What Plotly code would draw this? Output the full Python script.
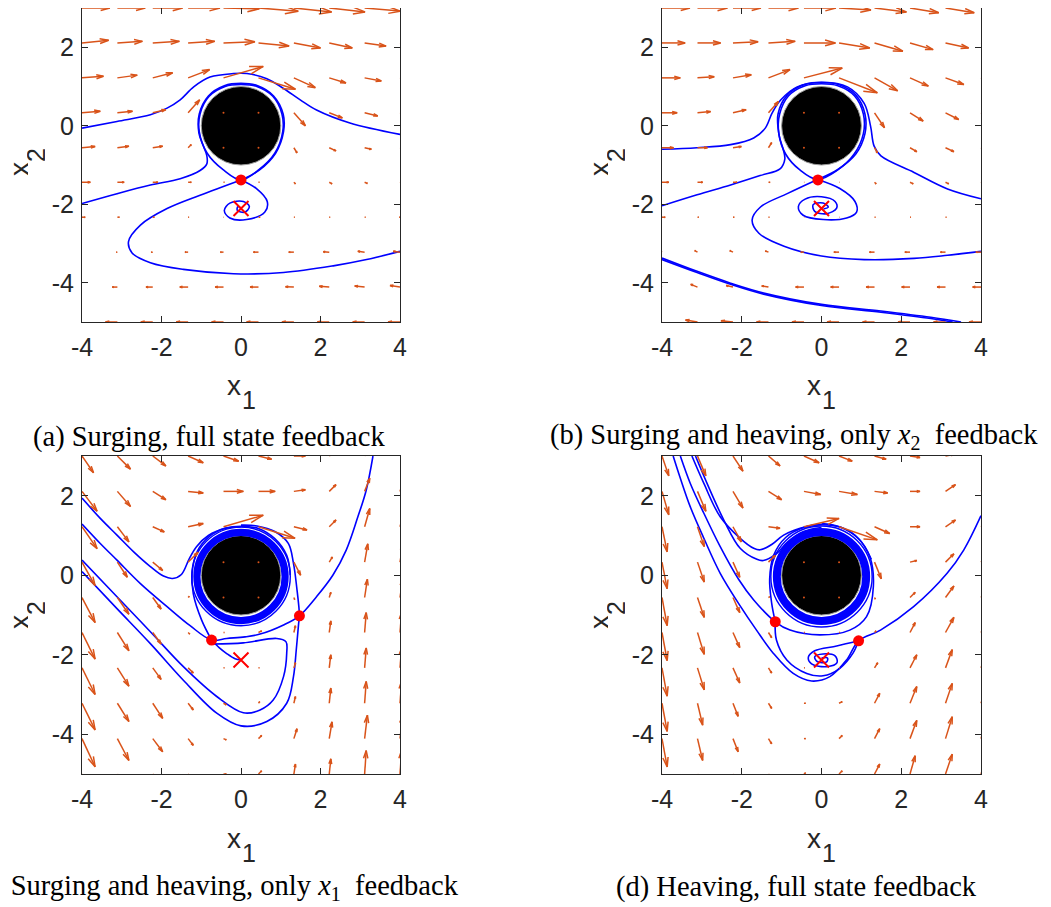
import plotly.graph_objects as go

W, H = 1051, 907
PAGE_OFFSET = 8  # the browser's default body margin shifts the figure by this many px

# ---------------- quiver grid ----------------
X_GRID = [-4.0, -3.11, -2.22, -1.33, -0.44, 0.44, 1.33, 2.22, 3.11, 4.0]
Y_ROWS = [3.0, 2.11, 1.22, 0.33, -0.56, -1.44, -2.33, -3.22, -4.11, -5.0]  # top -> bottom

# (a) Surging, full state feedback
U_A = [
    [0.70, 0.70, 0.75, 0.80, 0.90, 1.00, 0.95, 0.90, 0.90, 0.90],
    [0.67, 0.63, 0.67, 0.67, 0.79, 0.77, 0.67, 0.58, 0.54, 0.50],
    [0.54, 0.50, 0.50, 0.54, 1.00, 0.93, 0.54, 0.42, 0.42, 0.38],
    [0.46, 0.38, 0.33, 0.29, 0.00, 0.00, 0.29, 0.33, 0.33, 0.33],
    [0.33, 0.29, 0.25, 0.08, 0.00, 0.00, 0.08, 0.17, 0.17, 0.17],
    [0.21, 0.17, 0.13, 0.08, 0.02, 0.02, 0.04, 0.07, 0.07, 0.07],
    [0.08, 0.05, 0.04, 0.02, 0.01, 0.04, 0.02, 0.02, 0.02, -0.02],
    [-0.03, -0.03, -0.04, -0.08, -0.08, -0.13, -0.13, -0.15, -0.17, -0.17],
    [-0.13, -0.13, -0.17, -0.21, -0.21, -0.21, -0.21, -0.25, -0.25, -0.25],
    [-0.30, -0.30, -0.30, -0.30, -0.30, -0.30, -0.30, -0.30, -0.30, -0.30],
]
V_A = [
    [0.00, 0.00, 0.00, 0.00, -0.02, -0.08, -0.10, -0.10, -0.08, -0.08],
    [0.07, 0.04, 0.04, 0.04, 0.03, -0.08, -0.13, -0.13, -0.08, -0.07],
    [0.04, 0.07, 0.13, 0.21, 0.29, -0.29, -0.25, -0.13, -0.08, -0.07],
    [0.04, 0.04, 0.08, 0.33, 0.00, 0.00, -0.33, -0.13, -0.08, -0.07],
    [0.03, 0.04, 0.04, 0.08, 0.00, 0.00, -0.13, -0.08, -0.04, -0.03],
    [0.00, 0.00, 0.00, 0.00, 0.00, 0.00, -0.04, -0.04, -0.03, -0.03],
    [0.00, 0.00, 0.00, 0.00, 0.00, 0.00, 0.00, 0.00, 0.00, 0.00],
    [0.00, 0.00, 0.00, 0.00, 0.00, 0.00, 0.00, 0.01, 0.02, 0.02],
    [0.00, 0.00, 0.00, 0.00, 0.00, 0.00, 0.01, 0.02, 0.03, 0.04],
    [0.00, 0.00, 0.00, 0.00, 0.00, 0.00, 0.00, 0.00, 0.00, 0.00],
]

# (b) Surging and heaving, only x2 feedback
U_B = [
    [0.70, 0.75, 0.70, 0.75, 0.80, 0.80, 0.80, 0.72, 0.72, 0.70],
    [0.58, 0.58, 0.63, 0.67, 0.79, 0.77, 0.71, 0.58, 0.58, 0.54],
    [0.46, 0.42, 0.46, 0.54, 0.96, 0.96, 0.58, 0.46, 0.46, 0.42],
    [0.38, 0.33, 0.33, 0.25, 0.00, 0.00, 0.25, 0.33, 0.33, 0.33],
    [0.29, 0.25, 0.21, 0.08, 0.00, 0.00, 0.07, 0.17, 0.21, 0.21],
    [0.17, 0.13, 0.10, 0.04, 0.01, 0.01, 0.04, 0.08, 0.08, 0.08],
    [0.08, 0.03, 0.03, 0.02, 0.01, 0.01, 0.02, 0.02, 0.02, 0.02],
    [-0.05, -0.07, -0.08, -0.08, -0.08, -0.13, -0.13, -0.13, -0.13, -0.13],
    [-0.17, -0.17, -0.17, -0.17, -0.21, -0.21, -0.21, -0.21, -0.21, -0.21],
    [-0.30, -0.30, -0.30, -0.30, -0.30, -0.30, -0.30, -0.30, -0.30, -0.30],
]
V_B = [
    [0.00, 0.00, 0.00, 0.00, 0.00, -0.05, -0.10, -0.12, -0.12, -0.10],
    [0.00, 0.00, 0.03, 0.04, 0.00, -0.13, -0.21, -0.17, -0.13, -0.10],
    [0.00, 0.03, 0.08, 0.21, 0.25, -0.38, -0.33, -0.21, -0.17, -0.15],
    [0.00, 0.03, 0.08, 0.29, 0.00, 0.00, -0.38, -0.21, -0.17, -0.15],
    [0.00, 0.00, 0.03, 0.13, 0.00, 0.00, -0.13, -0.10, -0.10, -0.10],
    [0.00, 0.00, 0.00, 0.00, 0.00, 0.00, -0.04, -0.04, -0.04, -0.04],
    [0.00, 0.00, 0.00, 0.00, 0.00, 0.00, 0.00, 0.00, 0.00, 0.00],
    [0.04, 0.04, 0.04, 0.03, 0.00, 0.00, 0.00, 0.00, 0.00, 0.00],
    [0.07, 0.07, 0.04, 0.03, 0.00, 0.00, 0.00, 0.00, 0.00, 0.00],
    [0.05, 0.05, 0.03, 0.00, 0.00, 0.00, 0.00, 0.00, 0.00, 0.00],
]

# (c) Surging and heaving, only x1 feedback
U_C = [
    [0.29, 0.33, 0.33, 0.38, 0.38, 0.33, 0.29, 0.17, 0.13, 0.13],
    [0.38, 0.33, 0.33, 0.38, 0.50, 0.42, 0.29, 0.17, 0.13, 0.13],
    [0.38, 0.29, 0.29, 0.38, 1.00, 0.92, 0.33, 0.17, 0.13, 0.13],
    [0.33, 0.25, 0.25, 0.25, 0.00, 0.00, 0.17, 0.08, 0.08, 0.08],
    [0.33, 0.29, 0.21, 0.03, 0.00, 0.00, 0.02, 0.04, 0.07, 0.07],
    [0.33, 0.29, 0.21, 0.04, 0.02, 0.08, 0.04, 0.04, 0.04, 0.04],
    [0.33, 0.29, 0.21, 0.13, 0.02, 0.02, 0.04, 0.04, 0.04, 0.04],
    [0.33, 0.29, 0.25, 0.13, 0.07, 0.03, 0.04, 0.04, 0.04, 0.04],
    [0.33, 0.29, 0.25, 0.13, 0.07, 0.08, 0.08, 0.07, 0.07, 0.07],
    [0.33, 0.29, 0.25, 0.13, 0.07, 0.08, 0.04, 0.04, 0.04, 0.04],
]
V_C = [
    [-0.42, -0.33, -0.25, -0.17, -0.13, -0.08, 0.00, 0.13, 0.33, 0.33],
    [-0.50, -0.38, -0.21, -0.04, 0.00, 0.00, 0.04, 0.17, 0.33, 0.38],
    [-0.55, -0.38, -0.13, 0.08, 0.29, -0.29, -0.08, 0.17, 0.46, 0.46],
    [-0.59, -0.38, -0.21, 0.25, 0.00, 0.00, -0.33, 0.13, 0.46, 0.46],
    [-0.63, -0.42, -0.29, 0.03, 0.00, 0.00, -0.05, 0.13, 0.46, 0.46],
    [-0.67, -0.46, -0.29, -0.04, 0.00, 0.04, 0.17, 0.29, 0.50, 0.50],
    [-0.67, -0.46, -0.29, -0.13, 0.00, 0.00, 0.13, 0.33, 0.50, 0.50],
    [-0.67, -0.46, -0.38, -0.17, -0.04, 0.04, 0.17, 0.38, 0.55, 0.55],
    [-0.71, -0.55, -0.33, -0.17, -0.03, 0.08, 0.25, 0.42, 0.59, 0.59],
    [-0.71, -0.55, -0.33, -0.17, 0.00, 0.08, 0.25, 0.38, 0.59, 0.59],
]

# (d) Heaving, full state feedback
U_D = [
    [0.17, 0.21, 0.25, 0.29, 0.38, 0.33, 0.29, 0.25, 0.21, 0.21],
    [0.17, 0.21, 0.25, 0.33, 0.42, 0.46, 0.33, 0.25, 0.25, 0.25],
    [0.13, 0.17, 0.21, 0.29, 0.88, 0.96, 0.38, 0.25, 0.25, 0.25],
    [0.13, 0.17, 0.17, 0.17, 0.00, 0.00, 0.17, 0.17, 0.21, 0.21],
    [0.13, 0.17, 0.17, 0.03, 0.00, 0.00, 0.02, 0.13, 0.21, 0.21],
    [0.13, 0.17, 0.17, 0.08, 0.02, 0.02, 0.04, 0.13, 0.21, 0.21],
    [0.13, 0.17, 0.17, 0.08, 0.02, 0.02, 0.08, 0.17, 0.17, 0.17],
    [0.13, 0.13, 0.13, 0.08, 0.04, 0.08, 0.13, 0.17, 0.17, 0.17],
    [0.13, 0.13, 0.13, 0.08, 0.04, 0.08, 0.13, 0.17, 0.17, 0.17],
    [0.13, 0.13, 0.13, 0.08, 0.04, 0.08, 0.13, 0.13, 0.17, 0.17],
]
V_D = [
    [-0.50, -0.50, -0.38, -0.25, -0.17, -0.13, -0.08, -0.04, 0.04, 0.04],
    [-0.59, -0.50, -0.42, -0.21, -0.08, -0.08, -0.04, 0.00, 0.17, 0.17],
    [-0.63, -0.50, -0.38, -0.04, 0.21, -0.33, -0.17, 0.00, 0.17, 0.17],
    [-0.67, -0.50, -0.38, 0.17, 0.00, 0.00, -0.42, 0.04, 0.21, 0.21],
    [-0.71, -0.50, -0.38, 0.02, 0.00, 0.00, -0.04, 0.13, 0.29, 0.29],
    [-0.71, -0.55, -0.38, -0.13, 0.00, 0.00, 0.04, 0.25, 0.38, 0.38],
    [-0.71, -0.55, -0.38, -0.13, 0.00, 0.00, 0.13, 0.33, 0.46, 0.46],
    [-0.71, -0.55, -0.33, -0.13, 0.00, 0.04, 0.25, 0.42, 0.50, 0.50],
    [-0.71, -0.55, -0.33, -0.13, 0.00, 0.08, 0.25, 0.46, 0.55, 0.55],
    [-0.71, -0.55, -0.33, -0.13, 0.03, 0.08, 0.25, 0.46, 0.50, 0.50],
]

# ---------------- trajectories (x1, x2) ----------------
A_TOP = [(-4, -0.06), (-3.12, 0.11), (-2.28, 0.28), (-1.86, 0.45), (-1.53, 0.66), (-1.19, 0.99),
         (-0.78, 1.24), (-0.19, 1.33), (0.15, 1.33), (0.65, 1.20), (1.07, 0.95), (1.49, 0.66),
         (1.90, 0.40), (2.74, 0.07), (4.0, -0.22)]
A_LEFT = [(-4, -1.98), (-3.12, -1.73), (-2.28, -1.51), (-1.53, -1.35), (-1.03, -1.14), (-0.86, -0.97),
          (-0.86, -0.76), (-0.95, -0.51), (-1.06, -0.18), (-1.05, 0.3), (-0.82, 0.76), (-0.42, 1.02),
          (0, 1.08), (0.42, 1.02), (0.82, 0.76), (1.06, 0.3), (1.07, -0.15), (0.87, -0.7),
          (0.46, -1.13), (0, -1.38)]
A_LOOP = [(0, -1.38), (0.45, -1.12), (0.85, -0.7), (1.05, -0.15), (1.03, 0.3), (0.8, 0.75), (0.4, 1.0),
          (0, 1.05), (-0.4, 1.0), (-0.8, 0.75), (-1.03, 0.3), (-1.05, -0.15), (-0.85, -0.7),
          (-0.45, -1.12), (0, -1.38)]
A_BIG = [(4.0, -3.20), (3.16, -3.41), (2.32, -3.57), (1.07, -3.74), (-0.19, -3.77), (-1.45, -3.66),
         (-2.28, -3.49), (-2.74, -3.24), (-2.83, -2.95), (-2.53, -2.53), (-1.86, -2.11),
         (-1.03, -1.77), (0, -1.38)]
A_SPIRAL = [(0, -1.38), (0.39, -1.60), (0.66, -1.93), (0.60, -2.20), (0.14, -2.39), (-0.28, -2.35),
            (-0.42, -2.16), (-0.28, -1.97), (0.06, -1.93), (0.21, -2.06), (0.10, -2.20),
            (-0.09, -2.16), (-0.08, -2.06), (0.0, -2.1)]

B_TOP = [(-4, -0.60), (-3.12, -0.56), (-2.28, -0.48), (-1.70, -0.31), (-1.41, -0.06), (-1.24, 0.32),
         (-1.03, 0.65), (-0.61, 0.99), (0.0, 1.10), (0.65, 0.99), (1.07, 0.57), (1.23, -0.01),
         (1.32, -0.52), (1.49, -0.77), (2.32, -1.19), (3.16, -1.61), (4.0, -1.86)]
B_LEFT = [(-4, -2.04), (-3.12, -1.76), (-2.28, -1.51), (-1.54, -1.27), (-1.04, -1.10), (-0.92, -0.85),
          (-0.96, -0.60), (-1.06, -0.26), (-1.09, 0.3), (-0.86, 0.78), (-0.43, 1.05), (0, 1.11),
          (0.43, 1.05), (0.86, 0.78), (1.09, 0.3), (1.09, -0.2), (0.86, -0.72), (0.4, -1.12),
          (-0.1, -1.37)]
B_LOOP = [(-0.1, -1.37), (0.4, -1.13), (0.82, -0.72), (1.05, -0.2), (1.05, 0.3), (0.83, 0.76),
          (0.41, 1.02), (0, 1.07), (-0.41, 1.02), (-0.83, 0.76), (-1.05, 0.3), (-1.07, -0.2),
          (-0.9, -0.72), (-0.55, -1.12), (-0.1, -1.37)]
B_MID = [(4.0, -3.20), (3.16, -3.30), (2.32, -3.38), (1.07, -3.41), (0, -3.32), (-0.94, -3.07),
         (-1.57, -2.74), (-1.74, -2.40), (-1.53, -2.07), (-0.86, -1.73), (-0.1, -1.37)]
B_SPIRAL = [(-0.1, -1.37), (0.46, -1.60), (0.84, -1.93), (0.88, -2.20), (0.63, -2.35), (0.04, -2.39),
            (-0.46, -2.28), (-0.58, -2.06), (-0.41, -1.87), (0.0, -1.81), (0.34, -1.93),
            (0.38, -2.10), (0.13, -2.24), (-0.17, -2.18), (-0.21, -2.01), (0.04, -1.97),
            (0.17, -2.07), (0.05, -2.12)]
B_BOTTOM_1 = [(-4, -3.41), (-3.12, -3.74), (-2.28, -4.04), (-1.45, -4.29), (0, -4.58), (1.49, -4.75),
              (2.74, -4.91), (3.29, -5.0)]
B_BOTTOM_2 = [(-4, -3.37), (-3.12, -3.71), (-2.28, -4.01), (-1.45, -4.26), (0, -4.55), (1.49, -4.72),
              (2.74, -4.88), (3.5, -5.0)]

C_HOOK = [(-4, 1.94), (-3.54, 1.43), (-3.12, 1.01), (-2.70, 0.59), (-2.28, 0.22), (-1.95, -0.02),
          (-1.72, -0.08), (-1.5, 0.02), (-1.3, 0.42), (-1.12, 0.72), (-0.82, 1.0), (-0.4, 1.18),
          (0, 1.23), (0.45, 1.17), (0.85, 0.92), (1.15, 0.5), (1.24, 0.0)]
C_MAIN = [(-4, 1.29), (-3.54, 0.80), (-3.12, 0.38), (-2.53, -0.21), (-1.86, -0.79), (-1.28, -1.27),
          (-0.74, -1.63), (-0.36, -1.59), (0.1, -1.55), (0.48, -1.48), (1.07, -1.25), (1.47, -1.02),
          (1.90, -0.54), (2.31, 0.0), (2.65, 0.64), (2.94, 1.47), (3.15, 2.14), (3.32, 3.0)]
C_TO_FOCUS = [(-0.74, -1.63), (-0.55, -1.82), (-0.36, -1.97), (-0.15, -2.1), (0, -2.13)]
C_UP = [(-0.74, -1.63), (-0.99, -1.13), (-1.20, -0.47), (-1.23, 0.05), (-1.1, 0.6), (-0.8, 0.97),
        (-0.4, 1.18), (0, 1.22)]
C_J = [(-4, 0.38), (-3.12, -0.54), (-2.28, -1.42), (-1.45, -2.30), (-0.61, -3.05), (0.06, -3.46),
       (0.48, -3.39), (0.81, -3.14), (1.07, -2.55), (1.15, -1.96), (1.13, -1.67), (0.90, -1.59),
       (0.06, -1.70), (-0.70, -1.73)]
C_U = [(-4, 0.09), (-3.12, -0.84), (-2.28, -1.72), (-1.45, -2.64), (-0.61, -3.47), (0, -3.79),
       (0.65, -3.68), (1.15, -3.22), (1.32, -2.55), (1.39, -1.88), (1.45, -1.21), (1.47, -1.02),
       (1.40, -0.29), (1.32, 0.30), (1.19, 0.80), (0.85, 1.1), (0.4, 1.24), (0, 1.26)]

D_OUTER = [(-3.72, 3.0), (-3.54, 2.44), (-3.29, 1.72), (-2.95, 0.93), (-2.54, 0.05), (-2.04, -0.77),
           (-1.63, -1.38), (-1.21, -1.96), (-0.71, -2.47), (-0.25, -2.66), (0.21, -2.55),
           (0.63, -2.13), (0.93, -1.65), (1.48, -1.38), (2.31, -0.79), (3.15, 0.05), (3.57, 0.64),
           (4.0, 1.5)]
D_SECOND = [(-3.54, 3.0), (-3.29, 2.31), (-2.95, 1.56), (-2.54, 0.72), (-2.08, -0.1), (-1.70, -0.62),
            (-1.16, -1.17), (-0.79, -1.38), (-0.04, -1.50), (0.71, -1.38), (1.13, -1.04),
            (1.30, -0.29), (1.21, 0.47), (0.9, 0.95), (0.45, 1.22), (0, 1.3)]
D_LOWER = [(-1.16, -1.17), (-1.13, -1.63), (-0.87, -2.13), (-0.37, -2.47), (0.04, -2.53), (0.46, -2.34),
           (0.79, -1.96), (0.93, -1.65)]
D_UP = [(-1.16, -1.17), (-1.25, -0.7), (-1.3, -0.1), (-1.2, 0.5), (-0.9, 0.95), (-0.45, 1.2), (0, 1.28)]
D_SPIRAL = [(0.93, -1.65), (0.38, -1.78), (-0.17, -1.90), (-0.33, -2.06), (-0.25, -2.23), (0.13, -2.30),
            (0.39, -2.20), (0.34, -2.03), (0.04, -1.98), (-0.17, -2.05), (-0.11, -2.17),
            (0.13, -2.18), (0.15, -2.08), (0.0, -2.08)]
D_HOOK_1 = [(-3.25, 3.0), (-2.95, 2.31), (-2.54, 1.47), (-2.04, 0.93), (-1.70, 0.68), (-1.54, 0.64),
            (-1.24, 0.78), (-0.95, 1.01), (-0.4, 1.22), (0, 1.27), (0.5, 1.2), (0.95, 0.9), (1.25, 0.4)]
D_HOOK_2 = [(-3.16, 3.0), (-2.87, 2.31), (-2.45, 1.39), (-2.04, 0.68), (-1.62, 0.40), (-1.46, 0.37),
            (-1.12, 0.55), (-0.85, 0.84), (-0.45, 1.1), (0, 1.2)]

CURVES = {
    "a": [A_TOP, A_LEFT, A_LOOP, A_BIG, A_SPIRAL],
    "b": [B_TOP, B_LEFT, B_LOOP, B_MID, B_SPIRAL, B_BOTTOM_1, B_BOTTOM_2],
    "c": [C_HOOK, C_MAIN, C_TO_FOCUS, C_UP, C_J, C_U],
    "d": [D_OUTER, D_SECOND, D_LOWER, D_UP, D_SPIRAL, D_HOOK_1, D_HOOK_2],
}
SADDLES = {"a": [(0.0, -1.38)], "b": [(-0.09, -1.38)],
           "c": [(-0.74, -1.63), (1.47, -1.02)], "d": [(-1.16, -1.17), (0.93, -1.65)]}
FOCI = {"a": (0.0, -2.11), "b": (0.0, -2.11), "c": (0.0, -2.13), "d": (0.0, -2.13)}
OBSTACLE_RADIUS = 1.0
# limit-cycle bands (inner radius, outer radius) and outer single loops
BANDS = {"c": (1.02, 1.20), "d": (1.02, 1.22)}
OUTER_LOOPS = {"c": [1.24], "d": [1.27]}

CAPTIONS = {
    "a": "(a) Surging, full state feedback",
    "b": "(b) Surging and heaving, only <i>x</i><sub>2</sub>&nbsp; feedback",
    "c": "(c) Surging and heaving, only <i>x</i><sub>1</sub>&nbsp; feedback",
    "d": "(d) Heaving, full state feedback",
}
X_TICKS = [-4, -2, 0, 2, 4]
X_TICK_TEXT = ["-4", "-2", "0", "2", "4"]
Y_TICKS = [-4, -2, 0, 2]
Y_TICK_TEXT = ["-4", "-2", "0", "2"]
X_RANGE = [-4, 4]
Y_RANGE = [-5, 3]

# ---------------- layout geometry (reference-page pixels) ----------------
PANELS = {  # left, right, top, bottom in px
    "a": (82, 400, 3, 322),
    "b": (662, 981, 3, 322),
    "c": (82, 400, 456, 774),
    "d": (662, 981, 456, 774),
}
AX = {"a": ("x", "y", ""), "b": ("x2", "y2", "2"), "c": ("x3", "y3", "3"), "d": ("x4", "y4", "4")}
FIELD = {"a": (U_A, V_A), "b": (U_B, V_B), "c": (U_C, V_C), "d": (U_D, V_D)}

QUIVER_COLOR = "#D95319"
LINE_BLUE = "#0000FF"
AXIS_COLOR = "#262626"

fig = go.Figure()


def quiver_xy(U, V, alpha=0.33, beta=0.28):
    xs, ys, zx, zy = [], [], [], []
    for i, yv in enumerate(Y_ROWS):
        for j, xv in enumerate(X_GRID):
            u, v = U[i][j], V[i][j]
            if u == 0 and v == 0:
                zx.append(xv)
                zy.append(yv)
                continue
            tx, ty = xv + u, yv + v
            xs += [xv, tx, None, tx - alpha * (u + beta * v), tx, tx - alpha * (u - beta * v), None]
            ys += [yv, ty, None, ty - alpha * (v - beta * u), ty, ty - alpha * (v + beta * u), None]
    return xs, ys, zx, zy


shapes = []
annotations = []


def px_x(px):
    return min(1.0, max(0.0, (px - PAGE_OFFSET) / W))


def px_y(py):
    return min(1.0, max(0.0, 1 - (py - PAGE_OFFSET) / H))


for key in ["a", "b", "c", "d"]:
    xa, ya, sfx = AX[key]
    shapes.append(dict(type="circle", xref=xa, yref=ya, layer="below",
                       x0=-OBSTACLE_RADIUS, x1=OBSTACLE_RADIUS, y0=-OBSTACLE_RADIUS, y1=OBSTACLE_RADIUS,
                       fillcolor="black", line=dict(color="#9a9a9a", width=1)))
    for curve in CURVES[key]:
        fig.add_trace(go.Scatter(x=[p[0] for p in curve], y=[p[1] for p in curve], mode="lines",
                                 line=dict(color=LINE_BLUE, width=1.6, shape="spline", smoothing=1.0),
                                 xaxis=xa, yaxis=ya, showlegend=False, hoverinfo="skip"))
    U, V = FIELD[key]
    qx, qy, zx, zy = quiver_xy(U, V)
    fig.add_trace(go.Scatter(x=qx, y=qy, mode="lines", line=dict(color=QUIVER_COLOR, width=1.5),
                             xaxis=xa, yaxis=ya, showlegend=False, hoverinfo="skip"))
    fig.add_trace(go.Scatter(x=zx, y=zy, mode="markers", marker=dict(color=QUIVER_COLOR, size=2),
                             xaxis=xa, yaxis=ya, showlegend=False, hoverinfo="skip"))
    sx = [p[0] for p in SADDLES[key]]
    sy = [p[1] for p in SADDLES[key]]
    fig.add_trace(go.Scatter(x=sx, y=sy, mode="markers", marker=dict(color="#FF0000", size=11),
                             xaxis=xa, yaxis=ya, showlegend=False, hoverinfo="skip"))
    fig.add_trace(go.Scatter(x=[FOCI[key][0]], y=[FOCI[key][1]], mode="markers",
                             marker=dict(color="#FF0000", size=15, symbol="x-thin",
                                         line=dict(color="#FF0000", width=2)),
                             xaxis=xa, yaxis=ya, showlegend=False, hoverinfo="skip"))
    l, r, t, b = PANELS[key]
    px_per_unit = (r - l) / (X_RANGE[1] - X_RANGE[0])
    if key in BANDS:
        rin, rout = BANDS[key]
        rm = (rin + rout) / 2
        shapes.append(dict(type="circle", xref=xa, yref=ya, layer="below",
                           x0=-rm, x1=rm, y0=-0.03 - rm, y1=-0.03 + rm,
                           line=dict(color=LINE_BLUE, width=(rout - rin) * px_per_unit)))
        for ro in OUTER_LOOPS[key]:
            shapes.append(dict(type="circle", xref=xa, yref=ya, layer="below",
                               x0=-ro, x1=ro, y0=-0.03 - ro, y1=-0.03 + ro,
                               line=dict(color=LINE_BLUE, width=1.4)))

    axis_common = dict(showgrid=False, zeroline=False, ticks="inside", ticklen=6, tickwidth=1,
                       tickcolor=AXIS_COLOR, showline=True, linecolor=AXIS_COLOR, linewidth=1,
                       mirror="ticks", fixedrange=True, automargin=False,
                       tickfont=dict(family="Liberation Sans, Arial, sans-serif", size=25, color=AXIS_COLOR))
    fig.update_layout(**{
        "xaxis" + sfx: dict(axis_common, range=X_RANGE, tickvals=X_TICKS, ticktext=X_TICK_TEXT,
                            domain=[px_x(l), px_x(r)], anchor=ya, ticklabelstandoff=3),
        "yaxis" + sfx: dict(axis_common, range=Y_RANGE, tickvals=Y_TICKS, ticktext=Y_TICK_TEXT,
                            domain=[px_y(b), px_y(t)], anchor=xa, ticklabelstandoff=2),
    })

    dx, dy = l - 82, t - 3
    lab_font = dict(family="Liberation Sans, Arial, sans-serif", size=28, color=AXIS_COLOR)
    sub_font = dict(family="Liberation Sans, Arial, sans-serif", size=25, color=AXIS_COLOR)
    for txt, (px, py), fnt, ang, hgt in [
        ("x", (234 + dx, 385 + dy), lab_font, 0, None),
        ("1", (249 + dx, 400 + dy), sub_font, 0, None),
        ("x", (19 + dx, 169 + dy), lab_font, -90, 18),
        ("2", (36 + dx, 155 + dy), sub_font, -90, 18),
    ]:
        ann = dict(text=txt, x=px_x(px), y=px_y(py), xref="paper", yref="paper",
                   showarrow=False, xanchor="center", yanchor="middle",
                   font=fnt, textangle=ang)
        if hgt:
            ann["height"] = hgt
        annotations.append(ann)

cap_font = dict(family="Liberation Serif, Times New Roman, serif", size=28.5, color="black")
for key, (px, py, anchor) in {"a": (209, 437, "center"), "b": (794, 437, "center"),
                              "c": (461, 887, "right"), "d": (796, 887, "center")}.items():
    annotations.append(dict(text=CAPTIONS[key], x=px_x(px), y=px_y(py), xref="paper", yref="paper",
                            showarrow=False, xanchor=anchor, yanchor="middle", font=cap_font))

fig.update_layout(width=W, height=H, margin=dict(l=0, r=0, t=0, b=0), autosize=False,
                  paper_bgcolor="white", plot_bgcolor="white",
                  shapes=shapes, annotations=annotations)

fig.write_html("out.html")
